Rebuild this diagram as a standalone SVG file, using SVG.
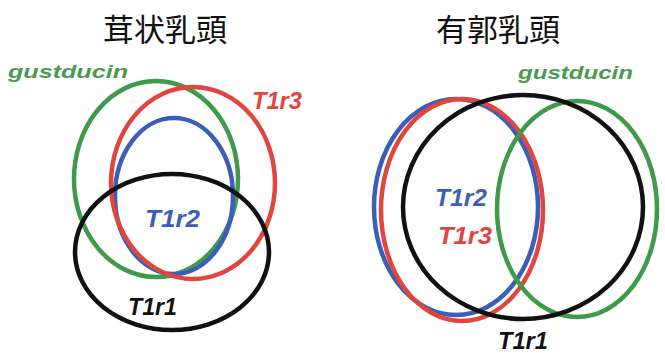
<svg xmlns="http://www.w3.org/2000/svg" width="665" height="353" viewBox="0 0 665 353">
<style>
.title{font-family:"Noto Sans CJK JP","Noto Sans CJK SC",sans-serif;font-size:31px;fill:#111;text-anchor:middle}
.lab{font-family:"Liberation Sans",Arial,sans-serif;font-weight:bold;font-style:italic;font-size:24px}
.gus{font-family:"Liberation Sans",Arial,sans-serif;font-weight:bold;font-style:italic;font-size:18px;fill:#4a9a52}
.c{fill:none;stroke-width:4.5}
.g{stroke:#3f9a4a}
.r{stroke:#e0463e}
.b{stroke:#3b5fb8}
.k{stroke:#111}
</style>
<rect width="665" height="353" fill="#fff"/>
<g id="left">
<text class="title" x="165" y="41">茸状乳頭</text>
<g id="L-gustducin"><ellipse class="c g" cx="156" cy="179" rx="82" ry="98"/><text class="gus" x="8" y="78" textLength="120" lengthAdjust="spacingAndGlyphs">gustducin</text></g>
<g id="L-T1r2"><ellipse class="c b" cx="174" cy="196" rx="59" ry="78"/><text class="lab" x="145" y="227" fill="#3b5fb8" textLength="55" lengthAdjust="spacingAndGlyphs">T1r2</text></g>
<g id="L-T1r3"><ellipse class="c r" cx="193" cy="183" rx="82" ry="96"/><text class="lab" x="252" y="109" fill="#e0463e" textLength="50" lengthAdjust="spacingAndGlyphs">T1r3</text></g>
<g id="L-T1r1"><ellipse class="c k" cx="172" cy="252" rx="97" ry="78"/><text class="lab" x="128" y="315" fill="#111" textLength="49" lengthAdjust="spacingAndGlyphs">T1r1</text></g>
</g>
<g id="right">
<text class="title" x="498" y="41">有郭乳頭</text>
<g id="R-T1r2"><ellipse class="c b" cx="456" cy="207" rx="82" ry="108"/><text class="lab" x="435" y="206" fill="#3b5fb8" textLength="52" lengthAdjust="spacingAndGlyphs">T1r2</text></g>
<g id="R-T1r3"><ellipse class="c r" cx="462" cy="210" rx="81" ry="111" stroke-width="6"/><text class="lab" x="438" y="244" fill="#e0463e" textLength="54" lengthAdjust="spacingAndGlyphs">T1r3</text></g>
<g id="R-gustducin"><ellipse class="c g" cx="577" cy="209" rx="80" ry="108"/><text class="gus" x="518" y="79" textLength="115" lengthAdjust="spacingAndGlyphs">gustducin</text></g>
<g id="R-T1r1"><ellipse class="c k" cx="523" cy="207" rx="120" ry="112"/><text class="lab" x="498" y="349" fill="#111" textLength="50" lengthAdjust="spacingAndGlyphs">T1r1</text></g>
</g>
<g id="connectors"/>
</svg>
